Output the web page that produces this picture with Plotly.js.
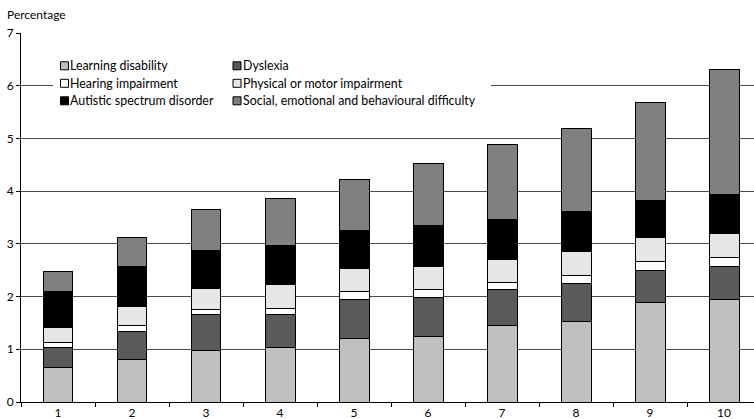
<!DOCTYPE html>
<html>
<head>
<meta charset="utf-8">
<script src="https://cdn.plot.ly/plotly-3.0.1.min.js"></script>
<style>html,body{margin:0;padding:0;background:#fff;}#chart{width:754px;height:419px;}</style>
</head>
<body>
<div id="chart"></div>
<script>
const categories = ['1','2','3','4','5','6','7','8','9','10'];
const xPositions = [1,2,3,4,5,6,7,8,9,10];
const seriesNames = ['Learning disability','Dyslexia','Hearing impairment','Physical or motor impairment','Autistic spectrum disorder','Social, emotional and behavioural difficulty'];
const learningDisability = [0.66,0.81,0.98,1.04,1.20,1.25,1.45,1.52,1.88,1.95];
const dyslexia           = [0.37,0.52,0.68,0.62,0.75,0.74,0.68,0.72,0.61,0.63];
const hearingImpairment  = [0.10,0.13,0.10,0.12,0.14,0.15,0.13,0.16,0.17,0.17];
const physicalImpairment = [0.29,0.36,0.40,0.44,0.45,0.43,0.45,0.46,0.46,0.44];
const autisticSpectrum   = [0.67,0.76,0.72,0.74,0.72,0.77,0.76,0.75,0.71,0.74];
const socialEmotional    = [0.38,0.54,0.77,0.90,0.97,1.18,1.41,1.58,1.86,2.38];
const yTicks = [0,1,2,3,4,5,6,7];
const seriesColors = ['#c0c0c0','#5a5a5a','#ffffff','#e6e6e6','#000000','#808080'];
const seriesValues = [learningDisability,dyslexia,hearingImpairment,physicalImpairment,autisticSpectrum,socialEmotional];

const FONT = 'Lato, "DejaVu Sans", sans-serif';
const W = 754, H = 419, ML = 21, MR = 0, MT = 33, MB = 17;
const PW = W - ML - MR, PH = H - MT - MB;
const px2x = p => (p - ML) / PW;
const px2y = p => (H - MB - p) / PH;

const traces = seriesNames.map((name, i) => ({
  type: 'bar',
  name: name,
  x: xPositions,
  y: seriesValues[i],
  marker: {color: seriesColors[i], line: {color: '#000', width: 1}},
  showlegend: false,
  hoverinfo: 'x+y+name'
}));

// Legend built from the series names/colours
const shapes = [{
  type: 'rect', xref: 'paper', yref: 'paper', layer: 'above',
  x0: px2x(53), x1: px2x(491), y0: px2y(52), y1: px2y(116),
  fillcolor: '#fff', line: {width: 0}
}];
const annotations = [{
  text: 'Percentage', xref: 'paper', yref: 'paper', x: px2x(5), y: px2y(15),
  xanchor: 'left', yanchor: 'middle', showarrow: false, font: {family: FONT, size: 12, color: '#000'}
}];
const colSwatch = [60.5, 233];
const rowY = [65.8, 83.3, 100.8];
seriesNames.forEach((name, i) => {
  const col = i % 2, row = Math.floor(i / 2);
  const sx = colSwatch[col], cy = rowY[row];
  shapes.push({
    type: 'rect', xref: 'paper', yref: 'paper', layer: 'above',
    x0: px2x(sx), x1: px2x(sx + 8), y0: px2y(cy - 4), y1: px2y(cy + 4),
    fillcolor: seriesColors[i], line: {color: '#000', width: 1}
  });
  annotations.push({
    text: name, xref: 'paper', yref: 'paper', x: px2x(sx + 7.5), y: px2y(cy),
    xanchor: 'left', yanchor: 'middle', showarrow: false,
    font: {family: FONT, size: 12.4, color: '#000'}
  });
});

const layout = {
  width: W, height: H,
  margin: {l: ML, r: MR, t: MT, b: MB, pad: 0},
  paper_bgcolor: '#fff', plot_bgcolor: '#fff',
  barmode: 'stack', bargap: 0.595,
  font: {family: FONT, size: 12, color: '#000'},
  showlegend: false,
  xaxis: {
    range: [0.5, 10.405], tickvals: xPositions, ticktext: categories,
    ticks: '', showgrid: false, zeroline: false,
    showline: true, linecolor: '#000', linewidth: 1,
    tickfont: {family: FONT, size: 12, color: '#000'},
    minor: {tickvals: [0.5,1.5,2.5,3.5,4.5,5.5,6.5,7.5,8.5,9.5], ticks: 'outside', ticklen: 4, tickcolor: '#000', tickwidth: 1, showgrid: false},
    fixedrange: true
  },
  yaxis: {
    range: [0, 7], tickvals: yTicks, ticktext: yTicks.map(String),
    ticks: 'outside', ticklen: 4, tickcolor: '#000',
    showgrid: true, gridcolor: '#4a4a4a', gridwidth: 1,
    zeroline: false, showline: true, linecolor: '#000', linewidth: 1,
    tickfont: {family: FONT, size: 12, color: '#000'},
    fixedrange: true
  },
  shapes: shapes,
  annotations: annotations
};

Plotly.newPlot('chart', traces, layout, {displayModeBar: false, staticPlot: true});
</script>
</body>
</html>
